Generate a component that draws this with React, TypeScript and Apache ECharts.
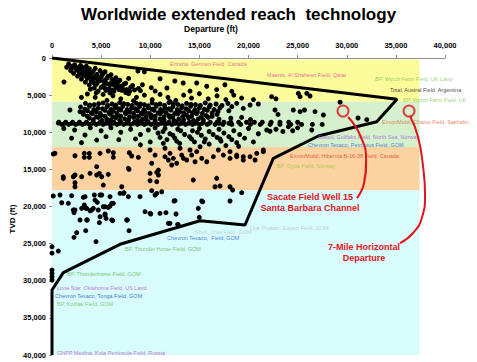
import { useEffect, useRef } from "react";
import * as echarts from "echarts";

// ---- axes ----
const departureTicks = [0, 5000, 10000, 15000, 20000, 25000, 30000, 35000, 40000];
const tvdTicks = [0, 5000, 10000, 15000, 20000, 25000, 30000, 35000, 40000];

// ---- depth bands (ft) ----
const bandTop = [200, 5900, 12000, 17800];
const bandBottom = [5900, 12000, 17800, 40000];
const bandRight = 37400;

// ---- wells: [departure ft, TVD ft] ----
const wellsShallow: [number, number][] = [
  [1700, 800], [2300, 900], [2900, 1000], [3500, 1100],
  [1500, 1250], [2000, 1150], [2600, 1350], [3200, 1300], [3800, 1450], [4400, 1400],
  [1900, 1700], [2500, 1550], [3000, 1750], [3600, 1650], [4200, 1800], [4900, 1700], [5400, 1850],
  [2200, 2050], [2800, 1950], [3400, 2150], [4000, 2000], [4600, 2200], [5200, 2050], [6000, 2250],
  [2600, 2450], [3200, 2350], [3800, 2550], [4400, 2400], [5000, 2600], [5700, 2450], [6500, 2650],
  [3000, 2850], [3600, 2750], [4200, 2950], [4800, 2800], [5400, 3000], [6100, 2850], [6900, 3000], [7800, 2750],
  [3400, 3250], [4000, 3150], [4600, 3350], [5300, 3200], [6000, 3400], [6700, 3250], [7500, 3400],
  [3800, 3650], [4500, 3550], [5200, 3750], [5900, 3600], [6600, 3750], [7300, 3550], [8200, 3700], [9200, 3600],
  [4300, 4050], [5000, 3950], [5800, 4150], [6500, 4000], [7200, 4150], [8000, 3950], [8800, 4100], [10100, 4000],
  [4700, 4450], [5500, 4350], [6300, 4500], [7100, 4350], [7900, 4500], [9000, 4400], [10500, 4450],
  [1220, 3230], [8750, 1750], [9400, 1850], [11000, 2800], [11700, 4040], [12500, 3100], [13350, 3370],
  [14050, 4450], [14730, 3370], [15750, 3800], [16760, 4270], [17600, 3600], [18300, 4490],
  [3600, 4850], [4400, 5300], [5200, 4900], [6200, 5100], [7000, 5500], [7800, 4800], [8600, 5300],
  [9400, 5000], [10200, 5600], [11000, 4900], [11800, 5300], [12600, 5700], [13400, 5000], [14200, 5400],
  [15000, 4800], [15900, 5500], [16800, 5100], [17700, 5600], [18500, 5000], [19300, 5400], [3000, 5300],
  [5600, 5700], [8300, 5750], [12000, 5850],
  [22360, 5210], [25070, 4760], [25930, 4760], [25250, 5210], [26260, 5120], [22800, 5500], [20500, 5600],
  [2000, 1400], [2700, 1800], [3300, 1950], [3900, 2250], [4500, 2650], [5100, 2300], [5600, 2700],
  [6300, 3100], [4900, 3050], [4300, 3400], [5600, 3450], [6300, 3600], [7000, 3800], [5400, 4100],
  [6100, 4300], [6800, 4250], [7600, 4250], [8400, 4300], [3900, 4200], [4500, 4700], [5900, 4700],
  [7500, 4650], [2400, 1200], [3000, 1450], [3600, 1900], [2900, 2200], [3500, 2500], [4100, 2700], [4700, 3050],
];

const wellsMid: [number, number][] = [
  [3400, 6100], [4300, 6300], [5200, 6050], [6100, 6200], [6900, 6000], [7700, 6250], [8600, 6100],
  [9400, 6300], [10200, 6050], [11000, 6200], [11900, 6000], [12800, 6250], [13700, 6100], [14600, 6300],
  [15600, 6050], [16700, 6200], [17900, 6100], [18800, 6100], [20160, 6330], [21000, 6200],
  [2900, 6600], [3800, 6500], [4700, 6750], [5600, 6550], [6400, 6700], [7200, 6500], [8100, 6750],
  [8900, 6550], [9800, 6700], [10600, 6500], [11500, 6750], [12300, 6550], [13200, 6700], [14100, 6500],
  [15000, 6750], [16000, 6600], [17100, 6700], [18300, 6550], [19470, 6780],
  [1830, 7000], [2850, 7230], [3600, 7100], [4500, 7250], [5400, 7050], [6200, 7200], [7000, 7000],
  [7900, 7250], [8700, 7100], [9500, 7300], [10400, 7050], [11200, 7200], [12100, 7000], [13000, 7250],
  [13900, 7100], [14800, 7300], [15800, 7050], [16900, 7200], [18000, 7100], [22700, 7000], [24560, 7000],
  [25250, 7230], [25700, 7000], [26770, 7230],
  [3200, 7600], [4100, 7500], [5000, 7750], [5900, 7550], [6700, 7700], [7500, 7500], [8400, 7750],
  [9200, 7550], [10100, 7700], [11000, 7500], [11900, 7750], [12800, 7550], [13700, 7700], [14700, 7500],
  [15700, 7750], [16800, 7600], [27620, 7680], [23000, 7600],
  [3800, 8100], [4700, 8000], [5600, 8250], [6500, 8050], [7400, 8200], [8300, 8000], [9200, 8250],
  [10100, 8050], [11000, 8200], [12000, 8000], [12900, 8250], [13900, 8050], [14900, 8200], [15900, 8000],
  [17000, 8250], [18200, 8100], [19300, 8000], [20200, 8300], [31150, 8080], [32040, 8310], [29320, 5950],
  [3850, 6350], [4750, 6150], [5650, 6400], [6500, 6350], [7300, 6150], [8150, 6400], [9000, 6200],
  [9800, 6450], [10600, 6300], [11450, 6400], [12350, 6150], [13250, 6450], [14150, 6250], [15100, 6400],
  [16100, 6350], [17300, 6400],
  [3350, 6900], [4250, 6950], [5150, 6850], [6000, 6950], [6800, 6850], [7650, 6950], [8500, 6850],
  [9350, 6950], [10200, 6900], [11050, 6950], [11900, 6850], [12750, 6950], [13650, 6850], [14550, 6950],
  [15500, 6900], [16500, 6950],
  [3150, 7350], [4000, 7400], [4900, 7450], [5800, 7350], [6600, 7400], [7450, 7350], [8300, 7450],
  [9100, 7400], [9900, 7450], [10800, 7400], [11600, 7350], [12500, 7450], [13400, 7400], [14300, 7350],
  [15300, 7450], [16300, 7400],
  [3600, 7850], [4500, 7900], [5400, 7850], [6200, 7900], [7000, 7850], [7900, 7900], [8800, 7850],
  [9600, 7900], [10500, 7850], [11400, 7900], [12300, 7850], [13300, 7900], [14200, 7850], [15200, 7900],
  [16300, 7850],
  [4200, 8300], [5100, 8400], [6000, 8350], [6900, 8400], [7800, 8350], [8700, 8400], [9600, 8350],
  [10500, 8400], [11400, 8350], [12400, 8400], [13400, 8350], [14400, 8400], [15400, 8350],
  [700, 8650], [1400, 8650], [2100, 8650], [2800, 8650], [3500, 8650], [4200, 8650], [4900, 8650],
  [5600, 8650], [6300, 8650], [7000, 8650], [7700, 8650], [8400, 8650], [9100, 8650], [9800, 8650],
  [10500, 8650], [11200, 8650], [11900, 8650], [12600, 8650], [13300, 8650], [14000, 8650], [14700, 8650],
  [15400, 8650], [16100, 8650], [16800, 8650], [17500, 8650], [18200, 8650], [19000, 8650], [19800, 8650],
  [20600, 8650], [21400, 8650], [22300, 8650], [23200, 8650], [24100, 8650], [25000, 8650],
  [1300, 8800], [2000, 8800], [2700, 8800], [3400, 8800], [4100, 8800], [4800, 8800], [5500, 8800],
  [6200, 8800], [6900, 8800], [7600, 8800], [8300, 8800], [9000, 8800], [9700, 8800], [10400, 8800],
  [11100, 8800], [11800, 8800], [12500, 8800], [13200, 8800], [13900, 8800], [14600, 8800], [15300, 8800],
  [16000, 8800], [17000, 8800], [18000, 8800],
  [1000, 8950], [1700, 8950], [2400, 8950], [3100, 8950], [3800, 8950], [4500, 8950], [5200, 8950],
  [5900, 8950], [6600, 8950], [7300, 8950], [8000, 8950], [8700, 8950], [9400, 8950], [10100, 8950],
  [10800, 8950], [11500, 8950], [12200, 8950], [12900, 8950], [13600, 8950], [14300, 8950], [15000, 8950],
  [15800, 8950], [16600, 8950], [17400, 8950], [18300, 8950], [19200, 8950], [20200, 8950], [21200, 8950],
  [22200, 8950], [23200, 8950], [24300, 8950], [25400, 8950], [26500, 8950], [27500, 8950],
  [640, 8760], [1200, 9500], [2300, 9700], [3360, 10370], [4550, 11050], [3900, 9400], [5000, 9800],
  [6000, 9400], [7000, 10000], [8000, 9600], [9000, 10300], [9800, 9700], [10800, 10100], [11500, 9500],
  [12300, 10400], [13100, 9800], [14000, 10600], [14800, 10000], [15600, 10900], [16400, 10300],
  [17200, 11200], [18000, 10600], [18800, 11400], [19600, 10800], [20500, 11300], [21860, 9700],
  [24060, 9250], [25000, 9400], [26440, 9700], [22800, 9600], [21000, 10200], [2000, 10800], [5500, 10600],
  [6800, 11000], [8500, 10900], [10000, 11300], [11700, 11000], [13000, 11500], [14500, 11300],
  [16000, 11600], [17700, 11800], [19000, 11900], [3000, 11400], [9000, 11700], [12500, 10800],
  [15000, 9500], [17000, 9600], [18500, 9800], [20000, 9500], [22190, 9870], [23500, 9900], [24500, 9800],
  [10500, 9400], [11300, 9900], [12000, 10200], [12800, 9600], [13500, 10300], [14300, 9800], [15200, 10400],
  [16000, 9900], [16800, 10700], [17500, 10100], [18300, 11000], [19100, 10300], [11000, 10700],
  [12700, 11200], [14200, 10900], [15500, 11300], [17100, 10900],
];

const wellsDeep: [number, number][] = [
  [130, 12930], [2340, 13160], [3290, 12840], [3800, 12840], [3290, 13380], [3800, 13380], [4890, 12840],
  [5730, 12530], [6240, 12760], [6240, 13380], [7870, 12760], [8110, 13200], [8790, 13380], [9980, 12390],
  [10490, 13070], [10150, 14180], [11500, 12160], [12010, 12840], [12350, 13510], [12690, 14180],
  [13200, 13070], [13710, 13740], [14220, 13070], [14730, 12620], [15240, 13510], [15750, 13970],
  [16420, 13290], [16930, 12390], [17440, 13070], [18120, 13510], [18800, 13070], [19470, 13290],
  [20160, 13290], [20840, 12840], [21510, 12390],
  [1150, 15990], [2340, 15760], [2340, 16800], [3020, 15990], [3870, 15530], [4550, 15760], [4820, 15530],
  [5730, 15670], [5220, 17110], [7100, 17340], [7840, 14990], [9980, 15530], [10660, 15400], [9980, 16530],
  [10830, 15760], [14380, 16430], [16760, 16210], [16590, 17340], [17100, 17240],
  [11330, 11490], [11840, 13740], [13030, 12160], [13370, 13510], [14050, 12390], [14560, 13970],
  [15070, 11950], [12180, 14410], [11500, 13290],
  [18120, 12620], [18800, 13290], [19470, 13740], [20670, 13740], [21510, 12620],
  [305, 12840], [1150, 16210], [2170, 15990], [4550, 14640], [5060, 15990], [7770, 14860], [10830, 15090],
  [10660, 16660], [18120, 17340], [2340, 17340],
];

const wellsUltraDeep: [number, number][] = [
  [130, 18590], [810, 18450], [990, 19490], [1660, 19570], [2340, 20470], [3360, 18680], [3290, 19800],
  [3530, 20250], [4040, 20470], [4380, 19130], [4890, 18450], [5220, 20030], [6080, 19570], [5900, 18680],
  [5400, 21150], [6080, 21820], [6920, 18230], [7330, 18140], [7770, 18680], [8960, 18680], [10150, 17870],
  [10660, 18230], [11170, 18010], [12420, 19260], [15240, 19260], [18120, 19260], [18390, 17780],
  [19310, 18140], [2850, 21820], [3530, 21820], [4890, 21380], [7600, 21820], [9470, 20700], [9980, 20920],
  [10990, 20920], [11600, 20830], [12010, 22270], [12860, 22490], [14890, 20250],
  [2000, 18540], [3190, 18760], [4310, 18450], [5060, 18450], [7260, 18230], [10490, 18450], [12520, 19220],
  [15340, 19360], [2170, 20470], [2240, 20830], [3020, 20250], [3460, 20250], [3870, 20570], [4210, 20250],
  [4610, 19440], [4710, 20470], [5400, 20030], [5730, 20110], [5900, 19940], [6240, 19570], [5400, 21010],
  [5500, 21600], [3590, 21820], [4820, 22180], [6180, 21910], [7670, 21820], [10050, 21010], [12620, 21010],
  [7840, 23260], [3430, 23260], [2510, 23530], [2240, 24150], [4480, 24740], [11840, 22270], [12790, 22400],
  [14990, 21460],
  [0, 25420], [0, 26290], [640, 26000], [0, 28560], [0, 29000], [0, 29450], [0, 29900],
];

// ---- ERD envelope ----
const envelopeDeparture = [0, 35115, 33050, 27105, 22525, 19645, 15065, 6920, 1150, 0, 0];
const envelopeTvd = [0, 5562, 8580, 10505, 13510, 22490, 21915, 25090, 28915, 31245, 40000];

// ---- record wells (circled) ----
const recordDeparture = [29620, 36340];
const recordTvd = [7140, 7140];
const sacateCurve: [number, number][] = [[30130, 7950], [31350, 10370], [31970, 13740], [31760, 16840], [31040, 18860]];
const mileCurve: [number, number][] = [[36440, 7810], [37260, 10640], [37770, 14680], [37970, 18450], [37670, 21420], [36750, 23570], [35430, 24920]];

// ---- field labels ----
const fieldNames = [
  "Ertraha, German Field, Canada",
  "Maersk, Al Shaheen Field, Qatar",
  "BP, Wytch Farm Field, UK Land",
  "Total, Austral Field, Argentina",
  "BP, Wytch Farm Field, UK",
  "ExxonMobil, Chaivo Field, Sakhalin",
  "Statoil, Gullfaks Field, North Sea, Norway",
  "Chevron Texaco, Petronius Field, GOM",
  "ExxonMobil, Hibernia B-16-38 Field, Canada",
  "BP, Gyda Field, Norway",
  "Unk Prosaic, Eapert Field, GOM",
  "Shell, Ursa Field, GOM",
  "Chevron Texaco,  Field, GOM",
  "BP, Thunder Horse Field, GOM",
  "BP, Thunderhorse Field, GOM",
  "Lone Star, Oklahoma Field, US Land",
  "Chevron Texaco, Tonga Field, GOM",
  "BP, Kodiak Field, GOM",
  "GNPP Medina, Kola Peninsula Field, Russia",
];
const fieldDeparture = [12010, 21890, 32880, 34400, 35730, 33590, 27080, 26060, 24230, 22900, 20160, 14560, 11710, 7430, 1530, 510, 305, 510, 510];
const fieldTvd = [810, 2290, 2830, 4310, 5660, 8620, 10640, 11720, 13200, 14550, 22900, 23440, 24250, 25730, 29100, 30980, 32060, 33140, 39740];
const fieldColors = [
  "#e8508a", "#e0508a", "#7cc850", "#111111", "#7cc850", "#d8683a", "#9a5ad8", "#2a62d0", "#e03a3a",
  "#94c83a", "#b8c8c8", "#b8c8c8", "#2a62d0", "#5ab84a", "#5ab84a", "#c050c0", "#2050c0", "#6ac050", "#b050c0",
];

const FONT = "'Liberation Sans', Arial, sans-serif";

export default function App() {
  const ref = useRef<HTMLDivElement>(null);
  useEffect(() => {
    const chart = echarts.init(ref.current!, null, { renderer: "svg" });
    const bandColors = ["#fbfb9c", "#d4f0cc", "#fcd2a0", "#d8fbfb"];
    const allWells = [...wellsShallow, ...wellsMid, ...wellsDeep, ...wellsUltraDeep];
    const fmt = (v: number) => v.toLocaleString("en-US");
    const red = "#e0141e";
    const callout = (text: string, x: number, y: number) => ({
      type: "text",
      x,
      y,
      z: 100,
      style: { text, font: `bold 9px ${FONT}`, fill: red, align: "center", verticalAlign: "middle" },
    });
    chart.setOption({
      animation: false,
      backgroundColor: "#ffffff",
      title: {
        text: "Worldwide extended reach  technology",
        left: "center",
        top: 1,
        textStyle: { fontSize: 17, fontWeight: "bold", color: "#000", fontFamily: FONT },
      },
      grid: { left: 52, top: 58, width: 393, height: 297 },
      xAxis: {
        type: "value",
        position: "top",
        min: departureTicks[0],
        max: departureTicks[departureTicks.length - 1],
        interval: departureTicks[1] - departureTicks[0],
        axisLine: { show: true, lineStyle: { color: "#909090", width: 1 } },
        axisTick: { show: true, length: 3, lineStyle: { color: "#909090" } },
        axisLabel: { fontSize: 7.5, fontWeight: "bold", color: "#000", fontFamily: FONT, margin: 9, formatter: fmt },
        splitLine: { show: false },
      },
      yAxis: {
        type: "value",
        inverse: true,
        min: tvdTicks[0],
        max: tvdTicks[tvdTicks.length - 1],
        interval: tvdTicks[1] - tvdTicks[0],
        axisLine: { show: false },
        axisTick: { show: true, length: 3, lineStyle: { color: "#909090" } },
        axisLabel: { fontSize: 7.5, fontWeight: "bold", color: "#000", fontFamily: FONT, margin: 6, formatter: fmt },
        splitLine: { show: false },
      },
      graphic: [
        {
          type: "text", x: 211, y: 28.5, z: 100,
          style: { text: "Departure (ft)", font: `bold 8.5px ${FONT}`, fill: "#000", align: "center", verticalAlign: "middle" },
        },
        {
          type: "text", x: 12, y: 219, rotation: Math.PI / 2, z: 100,
          style: { text: "TVD (ft)", font: `bold 8px ${FONT}`, fill: "#000", align: "center", verticalAlign: "middle" },
        },
        callout("Sacate Field Well 15", 310, 197),
        callout("Santa Barbara Channel", 310, 208),
        callout("7-Mile Horizontal", 364, 247),
        callout("Departure", 364, 258),
      ],
      series: [
        {
          name: "bands",
          type: "line",
          data: [],
          z: 1,
          silent: true,
          markArea: {
            silent: true,
            data: bandTop.map((t, i) => [
              { xAxis: 0, yAxis: t, itemStyle: { color: bandColors[i] } },
              { xAxis: bandRight, yAxis: bandBottom[i] },
            ]),
          },
        },
        {
          name: "wells",
          type: "scatter",
          data: allWells,
          symbolSize: 5,
          itemStyle: { color: "#000", opacity: 1 },
          z: 2,
        },
        {
          name: "envelope",
          type: "line",
          data: envelopeDeparture.map((x, i) => [x, envelopeTvd[i]]),
          symbol: "none",
          lineStyle: { color: "#000", width: 3 },
          z: 3,
        },
        {
          name: "labels",
          type: "scatter",
          data: fieldNames.map((n, i) => ({
            name: n,
            value: [fieldDeparture[i], fieldTvd[i]],
            label: { color: fieldColors[i] },
          })),
          symbolSize: 0,
          label: {
            show: true,
            position: "right",
            distance: 0,
            fontSize: 5.5,
            fontFamily: FONT,
            formatter: (p: any) => p.name,
          },
          z: 4,
        },
        {
          name: "sacate",
          type: "line",
          data: sacateCurve,
          smooth: true,
          symbol: "none",
          lineStyle: { color: red, width: 2 },
          z: 5,
        },
        {
          name: "mile",
          type: "line",
          data: mileCurve,
          smooth: true,
          symbol: "none",
          lineStyle: { color: red, width: 2 },
          z: 5,
        },
        {
          name: "records",
          type: "scatter",
          data: recordDeparture.map((x, i) => [x, recordTvd[i]]),
          symbol: "circle",
          symbolSize: 11,
          itemStyle: { color: "rgba(0,0,0,0)", borderColor: red, borderWidth: 2 },
          z: 6,
        },
      ],
    });
    return () => chart.dispose();
  }, []);
  return (
    <div
      ref={ref}
      style={{ position: "fixed", left: 0, top: 0, width: 477, height: 362, background: "#fff" }}
    />
  );
}
